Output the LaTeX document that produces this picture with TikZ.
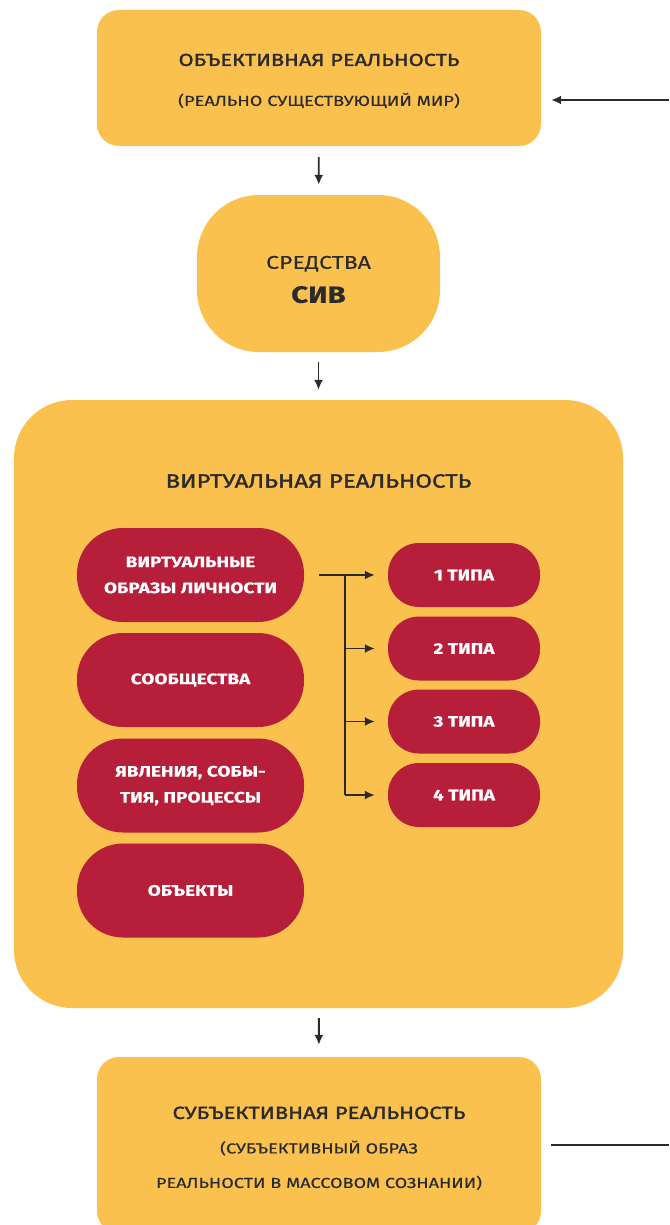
\documentclass[tikz,border=0pt]{standalone}
\usepackage{fontspec}
\setmainfont[FakeStretch=1.25,FakeBold=0.4]{Fira Sans}
\newfontfamily\medfont[FakeStretch=1.25,FakeBold=1.8]{Fira Sans}
\usetikzlibrary{arrows.meta}
\definecolor{yel}{HTML}{FBC14F}
\definecolor{crim}{HTML}{B71E3A}
\definecolor{ink}{HTML}{2B2B2B}
\tikzset{
  x=1pt, y=-1pt,
  ybox/.style={fill=yel, draw=none, inner sep=0pt, text=ink, align=center},
  rbox/.style={fill=crim, draw=none, inner sep=0pt, text=white, align=center,
    font=\bfseries\fontsize{15.2}{26}\selectfont},
  conn/.style={draw=ink, line width=1.8pt},
  arr/.style={conn, -{Latex[length=10pt,width=9pt]}},
}
\begin{document}
\begin{tikzpicture}
\useasboundingbox (0,0) rectangle (669,1225);
% top box
\node[ybox, minimum width=444pt, minimum height=136pt, rounded corners=22pt,
  font=\fontsize{14.6}{40}\selectfont] (obj) at (319,78)
  {\rule{0pt}{18pt}{\medfont\fontsize{17.4}{40}\selectfont ОБЪЕКТИВНАЯ РЕАЛЬНОСТЬ}\\
   (РЕАЛЬНО СУЩЕСТВУЮЩИЙ МИР)};
% SIV
\node[ybox, minimum width=243pt, minimum height=157pt, rounded corners=62pt,
  font=\fontsize{18.5}{34}\selectfont] (siv) at (318.5,273.5)
  {\rule{0pt}{25pt}СРЕДСТВА\\
   {\bfseries\fontsize{23.5}{34}\selectfont СИВ}};
% big box
\node[ybox, minimum width=609pt, minimum height=608pt, rounded corners=58pt] (vr) at (318.5,704) {};
\node[text=ink, font=\medfont\fontsize{19.2}{22}\selectfont] (vrt) at (318.5,481) {ВИРТУАЛЬНАЯ РЕАЛЬНОСТЬ};
% left red boxes
\node[rbox, minimum width=227pt, minimum height=94pt, rounded corners=46pt] (vob) at (190.5,575) {ВИРТУАЛЬНЫЕ\\ОБРАЗЫ ЛИЧНОСТИ};
\node[rbox, minimum width=227pt, minimum height=94pt, rounded corners=46pt] (soo) at (190.5,680) {СООБЩЕСТВА};
\node[rbox, minimum width=227pt, minimum height=94pt, rounded corners=46pt] (yav) at (190.5,785.5) {ЯВЛЕНИЯ, СОБЫ-\\ТИЯ, ПРОЦЕССЫ};
\node[rbox, minimum width=227pt, minimum height=94pt, rounded corners=46pt] (obk) at (190.5,890.5) {ОБЪЕКТЫ};
% right red boxes
\node[rbox, minimum width=152pt, minimum height=64pt, rounded corners=31pt] (t1) at (464,575) {1 ТИПА};
\node[rbox, minimum width=152pt, minimum height=64pt, rounded corners=31pt] (t2) at (464,648.5) {2 ТИПА};
\node[rbox, minimum width=152pt, minimum height=64pt, rounded corners=31pt] (t3) at (464,721.5) {3 ТИПА};
\node[rbox, minimum width=152pt, minimum height=64pt, rounded corners=31pt] (t4) at (464,795) {4 ТИПА};
% bottom box
\node[ybox, minimum width=444pt, minimum height=176pt, rounded corners=22pt,
  font=\fontsize{14.5}{34.5}\selectfont] (sub) at (319,1145)
  {\rule{0pt}{19pt}{\medfont\fontsize{17.6}{34.5}\selectfont СУБЪЕКТИВНАЯ РЕАЛЬНОСТЬ}\\
   (СУБЪЕКТИВНЫЙ ОБРАЗ\\
   РЕАЛЬНОСТИ В МАССОВОМ СОЗНАНИИ)};
% vertical arrows
\draw[arr, shorten <=11pt, shorten >=10pt] (obj) -- (siv);
\draw[arr, shorten <=10pt, shorten >=10pt] (siv) -- (vr);
\draw[arr, shorten <=10pt, shorten >=12pt] (vr) -- (sub);
% side stubs
\coordinate (inR) at (669,100);
\coordinate (outR) at (669,1145);
\draw[arr, shorten >=10pt] (inR) -- (obj.east |- inR);
\draw[conn, shorten <=10pt] (sub.east |- outR) -- (outR);
% branching
\coordinate (br) at (345,575);
\draw[arr, shorten <=15pt, shorten >=13pt] (vob.east) -- (t1.west);
\draw[conn] (br) -- (br |- t4.west);
\draw[arr, shorten >=13pt] (br |- t2.west) -- (t2.west);
\draw[arr, shorten >=13pt] (br |- t3.west) -- (t3.west);
\draw[arr, shorten >=13pt] (br |- t4.west) -- (t4.west);
\end{tikzpicture}
\end{document}
